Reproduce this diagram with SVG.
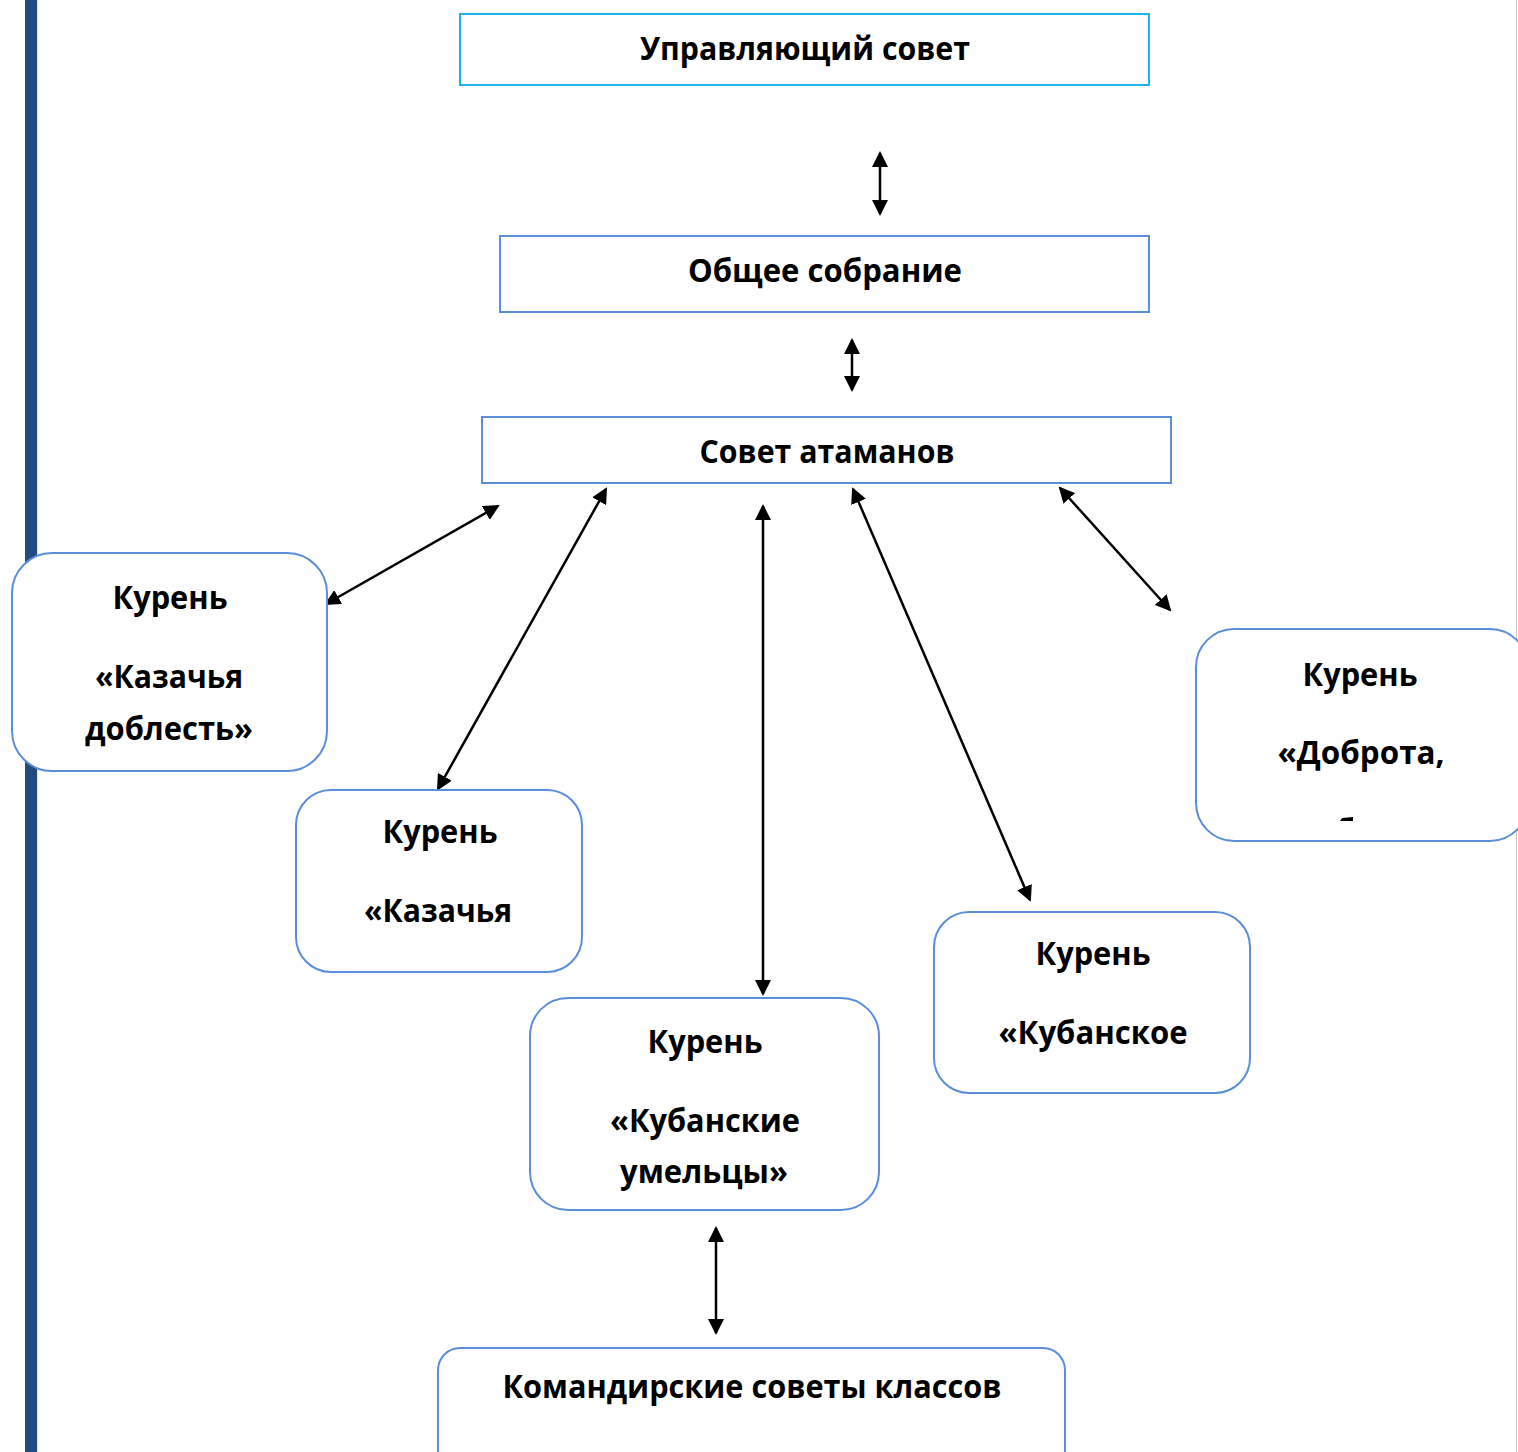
<svg xmlns="http://www.w3.org/2000/svg" width="1518" height="1452" viewBox="0 0 1518 1452">
<style>
.box{fill:#fff;stroke:#5a8ed8;stroke-width:2}
.top{fill:#fff;stroke:#1cb4ec;stroke-width:2}
.t{font-family:"Open Sans","Noto Sans","DejaVu Sans",sans-serif;font-weight:700;font-size:32px;fill:#000;text-anchor:middle}
.c{stroke:#000;stroke-width:2.5;fill:none;marker-start:url(#ah);marker-end:url(#ah)}
</style>
<defs>
<marker id="ah" viewBox="0 0 16 16" refX="14" refY="8" markerWidth="16" markerHeight="16" markerUnits="userSpaceOnUse" orient="auto-start-reverse">
<path d="M0,0 L16,8 L0,16 Z" fill="#000"/>
</marker>
</defs>
<rect x="0" y="0" width="1518" height="1452" fill="#fff"/>
<rect x="25" y="0" width="12" height="1452" fill="#224b7f"/>
<line x1="37.5" y1="0" x2="37.5" y2="1452" stroke="#dfe6f0" stroke-width="1"/>
<line x1="1516.5" y1="0" x2="1516.5" y2="1452" stroke="#c8c8c8" stroke-width="1"/>

<g id="connectors">
<line class="c" x1="880" y1="153" x2="880" y2="214"/>
<line class="c" x1="852" y1="340" x2="852" y2="390"/>
<line class="c" x1="498" y1="506" x2="326" y2="604"/>
<line class="c" x1="606" y1="489" x2="438" y2="789"/>
<line class="c" x1="763" y1="506" x2="763" y2="994"/>
<line class="c" x1="853" y1="489" x2="1030" y2="900"/>
<line class="c" x1="1060" y1="488" x2="1170" y2="610"/>
<line class="c" x1="716" y1="1228" x2="716" y2="1333"/>
</g>

<g id="n1">
<rect class="top" x="460" y="14" width="689" height="71"/>
<text class="t" x="805" y="60" textLength="330" lengthAdjust="spacingAndGlyphs">Управляющий совет</text>
</g>
<g id="n2">
<rect class="box" x="500" y="236" width="649" height="76"/>
<text class="t" x="825" y="282" textLength="274" lengthAdjust="spacingAndGlyphs">Общее собрание</text>
</g>
<g id="n3">
<rect class="box" x="482" y="417" width="689" height="66"/>
<text class="t" x="827" y="463" textLength="255" lengthAdjust="spacingAndGlyphs">Совет атаманов</text>
</g>
<g id="n4">
<rect class="box" x="12" y="553" width="315" height="218" rx="40"/>
<text class="t" x="170" y="609" textLength="115" lengthAdjust="spacingAndGlyphs">Курень</text>
<text class="t" x="169" y="688" textLength="148" lengthAdjust="spacingAndGlyphs">«Казачья</text>
<text class="t" x="169" y="740" textLength="168" lengthAdjust="spacingAndGlyphs">доблесть»</text>
</g>
<g id="n5">
<rect class="box" x="296" y="790" width="286" height="182" rx="35"/>
<text class="t" x="440" y="843" textLength="115" lengthAdjust="spacingAndGlyphs">Курень</text>
<text class="t" x="438" y="922" textLength="148" lengthAdjust="spacingAndGlyphs">«Казачья</text>
</g>
<g id="n6">
<rect class="box" x="530" y="998" width="349" height="212" rx="38"/>
<text class="t" x="705" y="1053" textLength="115" lengthAdjust="spacingAndGlyphs">Курень</text>
<text class="t" x="705" y="1132" textLength="190" lengthAdjust="spacingAndGlyphs">«Кубанские</text>
<text class="t" x="704" y="1183" textLength="168" lengthAdjust="spacingAndGlyphs">умельцы»</text>
</g>
<g id="n7">
<rect class="box" x="934" y="912" width="316" height="181" rx="35"/>
<text class="t" x="1093" y="965" textLength="115" lengthAdjust="spacingAndGlyphs">Курень</text>
<text class="t" x="1093" y="1044" textLength="189" lengthAdjust="spacingAndGlyphs">«Кубанское</text>
</g>
<g id="n8">
<rect class="box" x="1196" y="629" width="332" height="212" rx="38"/>
<text class="t" x="1360" y="686" textLength="115" lengthAdjust="spacingAndGlyphs">Курень</text>
<text class="t" x="1361" y="764" textLength="167" lengthAdjust="spacingAndGlyphs">«Доброта,</text>
<polygon points="1340,821 1342,818 1353,817 1353,821" fill="#000"/>
</g>
<g id="n9">
<rect class="box" x="438" y="1348" width="627" height="130" rx="22"/>
<text class="t" x="752" y="1398" textLength="499" lengthAdjust="spacingAndGlyphs">Командирские советы классов</text>
</g>
</svg>
